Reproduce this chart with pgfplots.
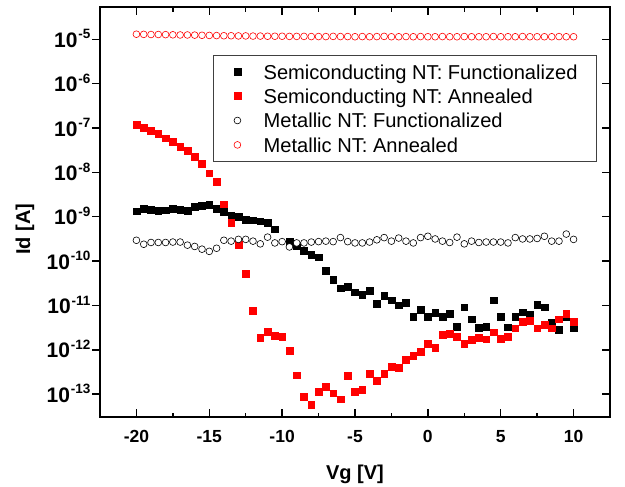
\documentclass[border=0pt]{standalone}
\usepackage{pgfplots}
\pgfplotsset{compat=1.18}
\usepackage{pgfplotstable}
\usepackage{fontspec}
\setmainfont{Liberation Sans}
\newfontfamily\boldsans{Liberation Sans Bold}
\newcommand\tickfont{\boldsans\fontsize{17.5}{18}\selectfont}
\newcommand\labfont{\boldsans\fontsize{20}{21}\selectfont}
\newcommand\legfont{\fontsize{20.1}{20}\selectfont}

% vg, semiconducting functionalized/annealed, metallic functionalized/annealed
\pgfplotstableread{
vg    sf       sa       mf       ma
-20   1.33e-9  1.17e-7  2.95e-10 1.30e-5
-19.5 1.51e-9  1.01e-7  2.40e-10 1.29e-5
-19   1.45e-9  8.71e-8  2.63e-10 1.28e-5
-18.5 1.38e-9  7.59e-8  2.63e-10 1.28e-5
-18   1.41e-9  5.89e-8  2.63e-10 1.27e-5
-17.5 1.51e-9  4.90e-8  2.69e-10 1.26e-5
-17   1.45e-9  3.72e-8  2.69e-10 1.25e-5
-16.5 1.35e-9  3.02e-8  2.29e-10 1.25e-5
-16   1.66e-9  2.29e-8  2.14e-10 1.24e-5
-15.5 1.78e-9  1.55e-8  1.86e-10 1.23e-5
-15   1.86e-9  9.55e-9  1.66e-10 1.22e-5
-14.5 1.55e-9  6.17e-9  1.95e-10 1.21e-5
-14   1.29e-9  1.91e-9  2.95e-10 1.20e-5
-13.5 1.07e-9  7.24e-10 2.82e-10 1.20e-5
-13   1.00e-9  2.34e-10 3.09e-10 1.19e-5
-12.5 8.71e-10 5.25e-11 3.09e-10 1.19e-5
-12   8.32e-10 7.76e-12 2.82e-10 1.18e-5
-11.5 7.94e-10 1.86e-12 2.45e-10 1.18e-5
-11   7.24e-10 2.57e-12 3.47e-10 1.17e-5
-10.5 5.25e-10 2.09e-12 2.57e-10 1.17e-5
-10   nan      2.00e-12 2.75e-10 1.17e-5
-9.5  2.75e-10 9.77e-13 2.09e-10 1.16e-5
-9    2.24e-10 2.69e-13 2.57e-10 1.16e-5
-8.5  1.70e-10 8.71e-14 2.57e-10 1.16e-5
-8    1.41e-10 5.75e-14 2.69e-10 1.15e-5
-7.5  1.23e-10 1.15e-13 2.75e-10 1.15e-5
-7    6.17e-11 1.48e-13 2.82e-10 1.15e-5
-6.5  3.80e-11 1.05e-13 2.75e-10 1.16e-5
-6    2.45e-11 7.76e-14 3.39e-10 1.15e-5
-5.5  2.69e-11 2.63e-13 2.75e-10 1.15e-5
-5    2.00e-11 1.15e-13 2.57e-10 1.14e-5
-4.5  1.78e-11 1.26e-13 2.57e-10 1.15e-5
-4    2.14e-11 2.88e-13 2.69e-10 1.14e-5
-3.5  1.10e-11 2.00e-13 3.02e-10 1.15e-5
-3    1.66e-11 2.88e-13 3.39e-10 1.16e-5
-2.5  1.32e-11 4.17e-13 2.82e-10 1.14e-5
-2    1.02e-11 3.98e-13 3.31e-10 1.14e-5
-1.5  1.17e-11 6.03e-13 2.82e-10 1.15e-5
-1    5.62e-12 7.41e-13 2.57e-10 1.14e-5
-0.5  8.13e-12 9.12e-13 3.39e-10 1.15e-5
0     5.50e-12 1.35e-12 3.63e-10 1.14e-5
0.5   6.92e-12 1.12e-12 3.16e-10 1.14e-5
1     5.62e-12 2.19e-12 2.82e-10 1.15e-5
1.5   6.46e-12 2.29e-12 2.63e-10 1.14e-5
2     3.39e-12 1.95e-12 3.47e-10 1.14e-5
2.5   9.12e-12 1.38e-12 2.45e-10 1.15e-5
3     4.90e-12 1.70e-12 2.82e-10 1.14e-5
3.5   3.16e-12 1.86e-12 2.63e-10 1.14e-5
4     3.39e-12 1.74e-12 2.69e-10 1.14e-5
4.5   1.32e-11 2.51e-12 2.69e-10 1.15e-5
5     5.50e-12 1.78e-12 2.69e-10 1.14e-5
5.5   3.24e-12 2.00e-12 2.57e-10 1.14e-5
6     5.62e-12 3.09e-12 3.39e-10 1.14e-5
6.5   7.08e-12 4.27e-12 3.16e-10 1.15e-5
7     6.31e-12 4.57e-12 3.16e-10 1.14e-5
7.5   1.05e-11 3.09e-12 3.24e-10 1.14e-5
8     9.12e-12 3.72e-12 3.63e-10 1.14e-5
8.5   4.07e-12 3.09e-12 2.82e-10 1.14e-5
9     2.88e-12 4.90e-12 2.82e-10 1.15e-5
9.5   5.50e-12 6.46e-12 4.07e-10 1.14e-5
10    3.16e-12 4.27e-12 3.09e-10 1.14e-5
}\datatable

\begin{document}
\begin{tikzpicture}
\begin{axis}[
  scale only axis, width=510pt, height=410pt,
  xmin=-22.5, xmax=12.5,
  ymode=log, log basis y=10,
  ymin=3.02e-14, ymax=5.25e-5,
  ytick={1e-13,1e-12,1e-11,1e-10,1e-9,1e-8,1e-7,1e-6,1e-5},
  clip mode=individual,
  xtick={-20,-15,...,10},
  xticklabels={-20,-15,-10,-5,0,5,10},
  minor x tick num=1,
  tick align=inside,
  xtick pos=both,
  ytick pos=right,
  yticklabel pos=left,
  major tick length=8pt, minor tick length=4.5pt,
  tick style={black, line width=1.5pt},
  axis line style={line width=2pt},
  xticklabel style={font=\tickfont, yshift=-9.5pt},
  yticklabel={\pgfmathtruncatemacro{\e}{round(\tick)}%
    {\boldsans\fontsize{21}{22}\selectfont 10}\kern1pt%
    \raisebox{8.3pt}{\boldsans\fontsize{13.5}{14}\selectfont\e}},
  yticklabel style={anchor=base east, xshift=-6pt, yshift=-8pt},
  xlabel={Vg [V]}, ylabel={Id [A]},
  label style={font=\labfont},
  xlabel style={at={([yshift=-57pt]rel axis cs:0.5,0)}, anchor=center},
  ylabel style={at={([xshift=-75pt]rel axis cs:0,0.459)}, anchor=center},
  legend cell align=left,
  legend image code/.code={\path (-7pt,0pt) (10pt,0pt);
    \draw[#1] plot coordinates {(0pt,0pt)};},
  legend style={at={(rel axis cs:0.2216,0.8837)}, anchor=north west,
    draw=black!75, font=\legfont, inner xsep=17pt, inner ysep=6pt,
    row sep=3.4pt, column sep=14pt,
    nodes={inner sep=2pt, text height=16pt, text depth=1pt}},
]
\addplot[only marks, mark=square*, mark size=3.4pt, black, mark options={line width=0.4pt}]
  table[x=vg, y=sf]{\datatable};
\addlegendentry{Semiconducting NT: Functionalized}
\addplot[only marks, mark=square*, mark size=3.4pt, red, mark options={line width=0.4pt}]
  table[x=vg, y=sa]{\datatable};
\addlegendentry{Semiconducting NT: Annealed}
\addplot[only marks, mark=*, mark size=3.4pt, black, mark options={fill=white, line width=0.6pt}]
  table[x=vg, y=mf]{\datatable};
\addlegendentry{Metallic NT: Functionalized}
\addplot[only marks, mark=*, mark size=3.4pt, red, mark options={fill=white, line width=0.6pt}]
  table[x=vg, y=ma]{\datatable};
\addlegendentry{Metallic NT: Annealed}
\path (rel axis cs:0,0) ++(-100pt,-68.7pt) rectangle ++(625pt,486pt);
\end{axis}
% left axis: ticks point outward, no labels of its own
\begin{axis}[
  scale only axis, width=510pt, height=410pt,
  xmin=-22.5, xmax=12.5,
  ymode=log, log basis y=10,
  ymin=3.02e-14, ymax=5.25e-5,
  ytick={1e-13,1e-12,1e-11,1e-10,1e-9,1e-8,1e-7,1e-6,1e-5},
  hide x axis,
  axis y line*=left,
  axis line style={-, line width=2pt},
  tick align=outside,
  major tick length=7.5pt, minor tick length=4pt,
  tick style={black, line width=1.5pt},
  yticklabels={},
]
\end{axis}
\end{tikzpicture}
\end{document}
